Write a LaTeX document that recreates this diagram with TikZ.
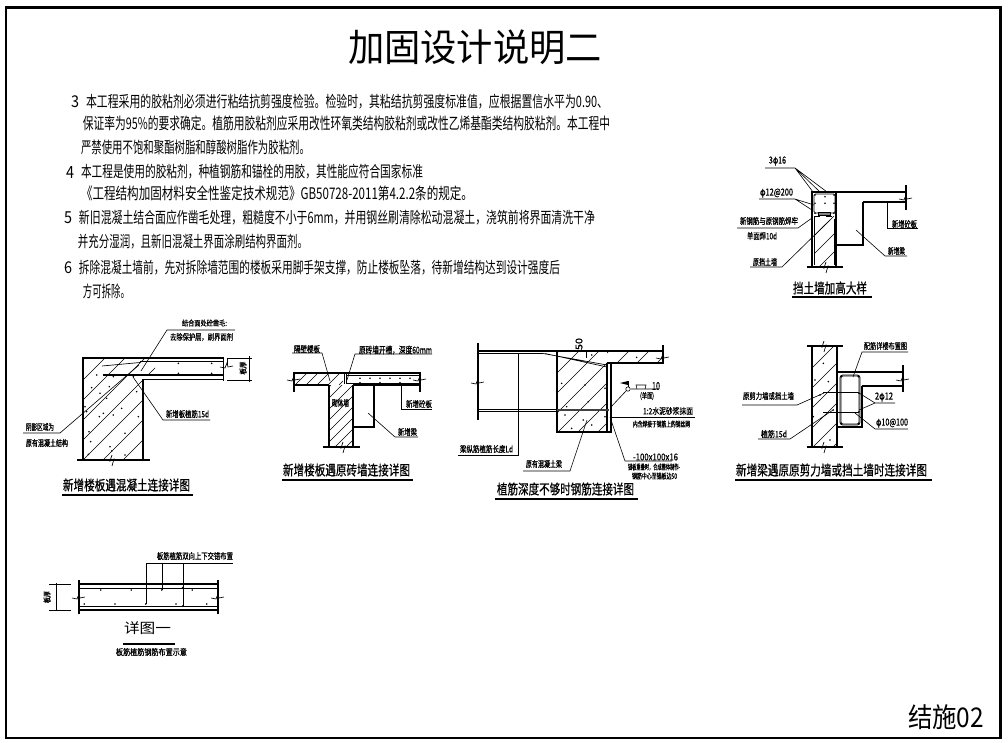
\documentclass[tikz,border=0pt]{standalone}
\usepackage{graphicx}
\usepackage{fontspec}
\setmainfont{Noto Sans CJK SC}
\newfontfamily\lblf[FakeBold=0.8]{Noto Sans CJK SC}
\newlength\px \px=0.75pt
% name, x-left, y-centre, width, height, text
\newcommand\TN[6]{\node[inner sep=0pt,outer sep=0pt,anchor=west] (#1) at (#2,#3) {\resizebox*{#4\px}{#5\px}{#6}};}
\newcommand\TT[6]{\node[inner sep=0pt,outer sep=0pt,anchor=west] (#1) at (#2,#3) {\resizebox*{#4\px}{#5\px}{\ifdim#5pt<14pt\lblf\fi #6}};}
\newcommand\TV[6]{\node[inner sep=0pt,outer sep=0pt,rotate=90] (#1) at (#2,#3) {\resizebox*{#4\px}{#5\px}{\lblf #6}};}
\newcommand\hatchbox[5]{\begin{scope}\clip (#1,#2) rectangle (#3,#4);
 \pgfmathsetmacro\HH{#4-#2}\pgfmathtruncatemacro\NN{(#3-#1+\HH)/#5+1}
 \foreach \i in {0,...,\NN}{\draw[thinl] ({#1-\HH+\i*#5+2},#4) -- ++(\HH,-\HH);}
 \end{scope}}
\newcommand\brkG[2]{\draw[thinl] (#1,#2-5) -- (#1-2,#2+1) -- (#1+2,#2-1) -- (#1,#2+6);}
\newcommand\brkS[2]{\draw[thinl] (#1-7,#2+1) -- (#1-2,#2+2) -- (#1,#2-3) -- (#1+1,#2+1) -- (#1+6,#2);}
\newcommand\spk[3]{\foreach \a/\b in {#3}{\fill (#1+\a/3,#2+\b/3) circle[radius=0.9];}}
\tikzset{x=0.75pt,y=-0.75pt,
 main/.style={line width=0.8pt,line cap=butt},
 thinl/.style={line width=0.5pt},
 lead/.style={line width=0.45pt},
 rule/.style={line width=1.6pt}}
\begin{document}
\begin{tikzpicture}
\useasboundingbox (0,0) rectangle (1008,743);
\fill[white] (0,0) rectangle (1008,743);
\draw[line width=1.8pt] (6,7.5) rectangle (1000.5,738);
% titles and notes
\TN{title}{348}{47}{254}{35}{加固设计说明二}
\TN{sheet}{908}{717}{76}{25}{结施02}
\TN{n3}{71}{102}{8}{12}{3}
\TN{l1}{86}{102}{522}{15}{本工程采用的胶粘剂必须进行粘结抗剪强度检验。检验时，其粘结抗剪强度标准值，应根据置信水平为0.90、}
\TN{l2}{83}{123}{527}{15}{保证率为95\%的要求确定。植筋用胶粘剂应采用改性环氧类结构胶粘剂或改性乙烯基酯类结构胶粘剂。本工程中}
\TN{l3}{81}{147}{229}{15}{严禁使用不饱和聚酯树脂和醇酸树脂作为胶粘剂。}
\TN{n4}{66}{172}{8}{12}{4}
\TN{l4}{81}{172}{342}{15}{本工程是使用的胶粘剂，种植钢筋和锚栓的用胶，其性能应符合国家标准}
\TN{l5}{81}{193}{392}{15}{《工程结构加固材料安全性鉴定技术规范》GB50728-2011第4.2.2条的规定。}
\TN{n5}{64}{218}{8}{12}{5}
\TN{l6}{79}{218}{516}{15}{新旧混凝土结合面应作凿毛处理，粗糙度不小于6mm，并用钢丝刷清除松动混凝土，浇筑前将界面清洗干净}
\TN{l7}{78}{242}{230}{15}{并充分湿润，且新旧混凝土界面涂刷结构界面剂。}
\TN{n6}{64}{268}{8}{12}{6}
\TN{l8}{79}{268}{481}{15}{拆除混凝土墙前，先对拆除墙范围的楼板采用脚手架支撑，防止楼板坠落，待新增结构达到设计强度后}
\TN{l9}{83}{291}{47}{15}{方可拆除。}

% ---------- retaining wall detail
\draw[main] (812,192) rectangle (836,267);
\draw[main] (836,192) -- (906,192) (863,202) -- (906,202);
\draw[main] (906,185) -- (906,210);
\brkS{906}{198}
\draw[main] (863,202) -- (863,245) -- (836,245);
\draw[main] (807,267) -- (843,267);
\brkG{826}{267}
\draw[thinl,rounded corners=1pt] (814,194) rectangle (835,213);
\draw[thinl] (814,216) -- (820,216) (826,216) -- (832,216) (814,216) -- (814,265) (834,219) -- (834,265);
\hatchbox{814}{216}{834}{266}{18}
\fill[gray] (818,212) rectangle (830,215.5);
\draw[thinl] (818,212) rectangle (830,215.5);
\spk{730}{150}{255/135,285/140,312/135,255/160,312/160,285/160,255/190,312/190,247/222,315/320}
\TT{a1}{769}{161}{17}{9}{3φ16}
\draw[lead] (765,168) -- (795,168) -- (813,192) (795,168) -- (820,192) (795,168) -- (827,192);
\TT{a2}{760}{193}{33}{9}{φ12@200}
\draw[lead] (759,199) -- (795,199) -- (814,205) (795,199) -- (812,210);
\TT{a3}{740}{221}{58}{8}{新钢筋与原钢筋焊牢}
\draw[lead] (737,228) -- (798,228) -- (812,218);
\TT{a4}{747}{236}{30}{8}{单面焊10d}
\TT{a5}{753}{262}{24}{8}{原挡土墙}
\draw[lead] (750,267) -- (782,267) -- (830,220);
\TT{a6}{892}{224}{25}{8}{新增砼板}
\draw[lead] (887,202) -- (887,228) -- (918,228);
\TT{a7}{888}{251}{17}{8}{新增梁}
\draw[lead] (907,256) -- (885,256) -- (856,230);
\TT{a8}{793}{288}{74}{13}{挡土墙加高大样}
\draw[rule] (792,297) -- (872,297);

% ---------- slab to concrete
\hatchbox{83}{358}{143}{460}{20}
\hatchbox{143}{358}{155}{375}{20}
\draw[main] (83,460) -- (83,358) -- (223,358) (143,460) -- (143,379.5) -- (223,379.5);
\draw[main] (77,460) -- (150,460);
\brkG{112}{460}
\draw[main] (223.5,357) -- (223.5,381);
\draw[line width=0.8pt] (140,361.5) -- (223,361.5) (103,375) -- (223,375);
\draw[thinl] (102,366) -- (140,362.5);
\draw[thinl] (227,358) -- (252,358) (227,380) -- (252,380) (249,356) -- (249,382) (227,358) -- (227,365);
\brkS{227}{366}
\spk{20}{315}{230/180,215/218,268/215,240/235,350/230,280/185,195/275,200/290,260/250,305/280,250/295,238/305,280/300,355/305,207/350,315/355,270/395,212/380,315/420,205/418,275/408,340/185,475/145,575/145,475/175,575/175}
\TV{b0}{243}{368}{13}{7}{板厚}
\TT{b1}{182}{323}{45}{7}{结合面处砼凿毛:}
\draw[lead] (235,330) -- (167,330) -- (141,371);
\TT{b2}{170}{337}{63}{8}{去除保护层，刷界面剂}
\TT{b3}{166}{414}{43}{8}{新增板植筋15d}
\draw[lead] (210,420) -- (163,420) -- (133,377);
\TT{b4}{26}{427}{28}{8}{阴影区域为}
\draw[lead] (23,433) -- (60,433) -- (139,365);
\TT{b5}{26}{443}{42}{8}{原有混凝土结构}
\TT{b6}{63}{485}{127}{13}{新增楼板遇混凝土连接详图}
\draw[rule] (62,495) -- (193,495);

% ---------- slab to brick wall
\hatchbox{294}{373}{343}{385}{11}
\hatchbox{329}{385}{353}{447}{11}
\draw[main] (294,373) -- (420,373) (294,385) -- (329,385) (353,385) -- (420,385);
\draw[main] (294,371.5) -- (294,392) (420,371.5) -- (420,392);
\brkS{294}{379}\brkS{420}{379}
\draw[main] (329,385) -- (329,447) (353,385) -- (353,447) (323,447) -- (360,447);
\brkG{343}{447}
\draw[main] (353,427) -- (374,427) -- (374,385);
\draw[thinl] (343,375) -- (420,375) (343,383) -- (420,383);
\fill[white] (343,374) rectangle (347,384);
\draw[thinl] (344,374) -- (344,384) (346,374) -- (346,384);
\spk{275}{330}{255/145,285/145,315/145,345/145,375/145,405/145,255/158,315/158,375/158}
\TT{c1}{294}{349}{26}{8}{隔壁楼板}
\draw[lead] (292,353) -- (322,353) -- (330,381);
\TT{c2}{359}{350}{73}{9}{原砖墙开槽，深度60mm}
\draw[lead] (432,354) -- (355,354) -- (347,380);
\TT{c3}{332}{403}{17}{8}{砌体墙}
\TT{c4}{406}{404}{26}{8}{新增砼板}
\draw[lead] (401,385) -- (401,409) -- (432,409);
\TT{c5}{398}{432}{19}{8}{新增梁}
\draw[lead] (418,437) -- (395,437) -- (368,413);
\TT{c6}{283}{470}{127}{13}{新增楼板遇原砖墙连接详图}
\draw[rule] (282,480) -- (413,480);

% ---------- bar embedment
\hatchbox{557}{351}{607}{432}{20}
\hatchbox{607}{351}{663}{363}{20}
\draw[main] (478,343) -- (478,420);
\brkS{478}{382}
\draw[main] (478,351) -- (663,351) (607,363) -- (663,363) (663,345) -- (663,364);
\brkS{663}{357}
\draw[main] (557,351) -- (557,432) -- (611,432) -- (611,363);
\draw[main] (607,363) -- (607,432);
\draw[line width=1pt] (478,353.5) -- (543,353.5);
\draw[thinl] (543,353.5) -- (607,365) (545,353.5) -- (607,367);
\draw[line width=1.6pt,black!75] (557,410) -- (609,410);
\draw[thinl] (478,409) -- (557,409) (478,411) -- (557,411);
\draw[thinl] (563,351) -- (587,351) (586,350) -- (586,358);
\TV{d0}{579}{344}{12}{7}{50}
\spk{450}{330}{425/75,560/82,335/160,405/165,465/175,415/215,350/230,400/270,365/295,425/285,345/255,465/260}
\draw[lead] (610,408) -- (626,391) (628,389) circle[radius=2.2] (631,389) -- (658,389);
\draw[lead] (628,387) -- (628,381);
\fill (628,381) -- (620,383) -- (628,385) -- cycle;
\draw[lead] (637,389) -- (636,385) -- (646,385) -- (645,389);
\TT{d1}{652}{386}{8}{8}{10}
\TT{d2}{640}{396}{14}{8}{(单面)}
\TT{d3}{643}{411}{50}{8}{1:2水泥砂浆抹面}
\draw[lead] (612,417) -- (695,417);
\TT{d4}{633}{424}{57}{7}{内含焊接于钢筋上的钢丝网}
\draw[lead] (610,417) -- (625,461) -- (672,461);
\TT{d5}{633}{457}{45}{7}{-100x100x16}
\TT{d6}{628}{467}{52}{7}{锚板重叠时，合成整体制作-}
\TT{d7}{632}{476}{45}{7}{钢筋中心至锚板边50}
\TT{d8}{460}{449}{53}{8}{梁纵筋植筋长度Ld}
\draw[lead] (518,353) -- (518,455) -- (458,455);
\TT{d9}{526}{464}{36}{8}{原有混凝土梁}
\draw[lead] (523,471) -- (570,471) -- (587,420);
\TT{d10}{497}{489}{137}{13}{植筋深度不够时钢筋连接详图}
\draw[rule] (495,499) -- (638,499);

% ---------- beam to shear wall
\hatchbox{812}{346}{837}{447}{20}
\draw[main] (807,346) -- (843,346) (807,447) -- (843,447) (812,346) -- (812,447) (837,346) -- (837,447);
\brkG{824}{346}\brkG{824}{447}
\draw[main] (837,372) -- (903,372) (862,386) -- (903,386) (903,365) -- (903,392);
\brkS{903}{379}
\draw[main] (862,386) -- (862,427) -- (837,427);
\draw[line width=0.6pt,rounded corners=2pt] (840,375) rectangle (860,425);
\draw[thinl,rounded corners=1pt] (841,376) rectangle (859,424);
\draw[thinl] (823,392) -- (859,392) (823,412) -- (859,412);
\spk{730}{330}{335/140,385/140,335/280,385/280,387/190,387/245,295/155,270/195,310/240,280/100,250/260,255/150,300/330}
\TT{e1}{864}{346}{43}{8}{配筋详楼布置图}
\draw[lead] (908,352) -- (862,352) -- (853,377);
\TT{e2}{875}{397}{18}{9}{2φ12}
\draw[lead] (895,403) -- (875,403) -- (859,393) (875,403) -- (859,410);
\TT{e3}{876}{423}{32}{9}{φ10@100}
\draw[lead] (908,429) -- (875,429) -- (855,413);
\TT{e4}{743}{396}{51}{8}{原剪力墙或挡土墙}
\draw[lead] (742,405) -- (797,405) -- (824,393);
\TT{e5}{761}{434}{26}{8}{植筋15d}
\draw[lead] (758,439) -- (790,439) -- (833,410);
\TT{e6}{736}{470}{191}{13}{新增梁遇原原剪力墙或挡土墙时连接详图}
\draw[rule] (735,480) -- (932,480);

% ---------- detail 1
\draw[main] (79,580) -- (79,614) (218,580) -- (218,614);
\brkS{79}{597}\brkS{218}{597}
\draw[main] (79,584) -- (218,584) (79,610) -- (218,610);
\draw[line width=0.6pt] (79,588) -- (218,588) (79,606) -- (218,606);
\draw[thinl] (49,584) -- (71,584) (49,610) -- (71,610) (56,583) -- (56,611);
\TV{f0}{47}{597}{12}{7}{板厚}
\spk{30}{545}{212/135,304/135,395/135,487/135,163/177,255/177,347/177,438/177,530/177,458/128,458/183}
\TT{f1}{157}{556}{76}{8}{板筋植筋双向上下交错布置}
\draw[thinl] (233,563) -- (146,563) -- (146,604) (162,563) -- (162,590) (183,563) -- (183,606);
\TN{f2}{124}{628}{47}{13}{详图一}
\draw[rule] (123,644) -- (175,644);
\TT{f3}{116}{652}{71}{8}{板筋植筋钢筋布置示意}
\end{tikzpicture}
\end{document}
